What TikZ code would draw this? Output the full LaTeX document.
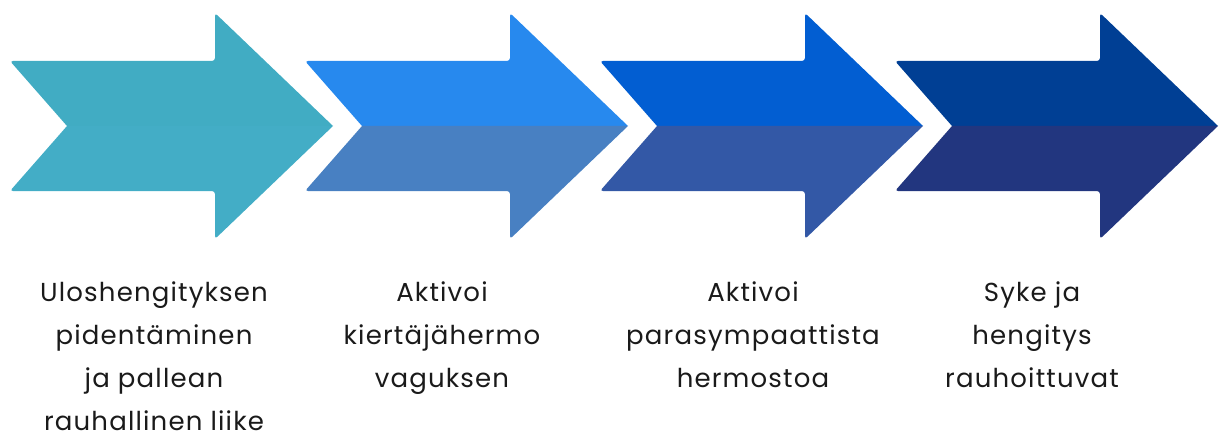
\documentclass[tikz,border=0pt]{standalone}
\usepackage{fontspec}
\setmainfont{Poppins}[LetterSpace=4.5]
\definecolor{aT}{HTML}{41ACC3}\definecolor{aB}{HTML}{43ADC6}
\definecolor{bT}{HTML}{2789EE}\definecolor{bB}{HTML}{4880C2}
\definecolor{cT}{HTML}{025ED2}\definecolor{cB}{HTML}{3358A6}
\definecolor{dT}{HTML}{003F94}\definecolor{dB}{HTML}{22367F}
\definecolor{txt}{HTML}{1A1A1A}
\tikzset{
  lbl/.style={anchor=north, inner sep=0pt, align=center, text=txt,
    font=\fontsize{26}{43}\selectfont},
}
\newcommand{\halfarrows}[3]{%
  \fill[#2] (#1+57,126) [rounded corners=3pt] -- (#1,61) -- (#1+205,61) -- (#1+205,13) [sharp corners] -- (#1+323,126) -- cycle;
  \fill[#3] (#1+57,126) [rounded corners=3pt] -- (#1,191) -- (#1+205,191) -- (#1+205,239) [sharp corners] -- (#1+323,126) -- cycle;
}
\begin{document}
\begin{tikzpicture}[x=1pt,y=-1pt]
\useasboundingbox (0,0) rectangle (1220,433);
\halfarrows{10}{aT}{aB}
\halfarrows{305}{bT}{bB}
\halfarrows{600}{cT}{cB}
\halfarrows{895}{dT}{dB}
\node[lbl] (t1) at (154,282) {Uloshengityksen\\pidentäminen\\ja pallean\\rauhallinen liike};
\node[lbl] (t2) at (442,282) {Aktivoi\\kiertäjähermo\\vaguksen};
\node[lbl] (t3) at (753,282) {Aktivoi\\parasympaattista\\hermostoa};
\node[lbl] (t4) at (1032,282) {Syke ja\\hengitys\\rauhoittuvat};
\end{tikzpicture}
\end{document}
